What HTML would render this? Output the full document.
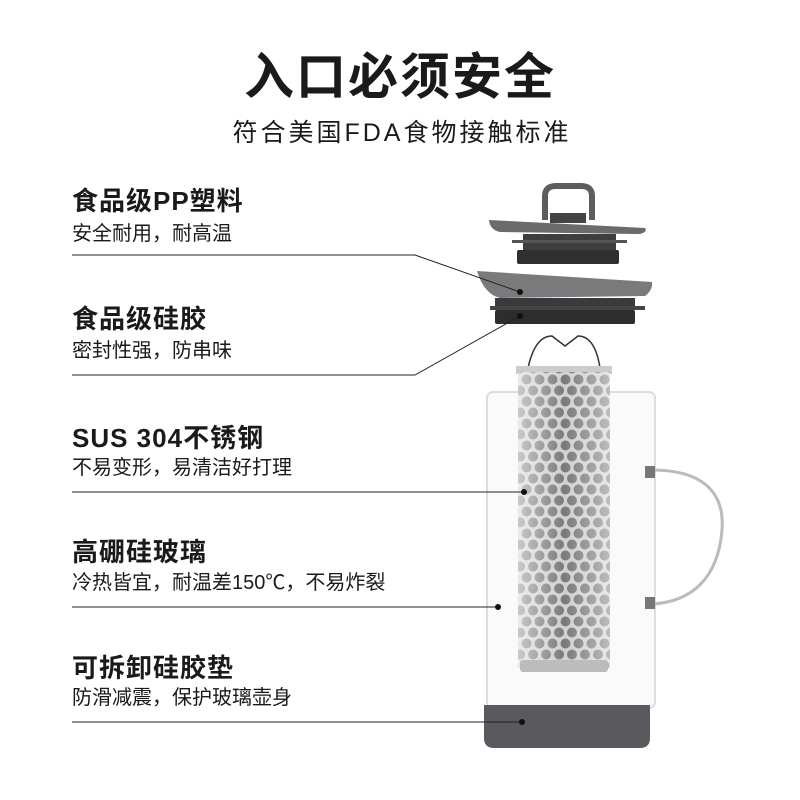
<!DOCTYPE html>
<html><head><meta charset="utf-8"><style>
body{margin:0;background:#fff}
svg{display:block}
text{font-family:"Liberation Sans","Noto Sans CJK SC",sans-serif;fill:#1a1a1a}
</style></head><body>
<svg width="800" height="800" viewBox="0 0 800 800" xmlns="http://www.w3.org/2000/svg">
<defs>
<pattern id="holes" x="0" y="0" width="13" height="22" patternUnits="userSpaceOnUse">
<rect width="13" height="22" fill="#d0d0d0"/>
<circle cx="6.5" cy="5.5" r="5" fill="#7a7a7a"/>
<circle cx="0" cy="16.5" r="5" fill="#7a7a7a"/>
<circle cx="13" cy="16.5" r="5" fill="#7a7a7a"/>
</pattern>
<linearGradient id="cyl" x1="0" x2="1">
<stop offset="0" stop-color="#fff" stop-opacity=".6"/><stop offset=".5" stop-color="#fff" stop-opacity="0"/><stop offset="1" stop-color="#fff" stop-opacity=".5"/>
</linearGradient>
</defs>
<text x="400" y="94" text-anchor="middle" font-size="50" font-weight="bold" letter-spacing="2">入口必须安全</text>
<text x="402" y="141" text-anchor="middle" font-size="25" letter-spacing="3">符合美国FDA食物接触标准</text>

<g font-size="26" font-weight="bold" letter-spacing="1">
<text x="72" y="210">食品级PP塑料</text>
<text x="72" y="328">食品级硅胶</text>
<text x="72" y="447">SUS 304不锈钢</text>
<text x="72" y="561">高硼硅玻璃</text>
<text x="72" y="677">可拆卸硅胶垫</text>
</g>
<g font-size="20">
<text x="72" y="240">安全耐用，耐高温</text>
<text x="72" y="357">密封性强，防串味</text>
<text x="72" y="474">不易变形，易清洁好打理</text>
<text x="72" y="589">冷热皆宜，耐温差150℃，不易炸裂</text>
<text x="72" y="704">防滑减震，保护玻璃壶身</text>
</g>

<rect x="487" y="392" width="168" height="316" rx="6" fill="#fafafa" stroke="#ddd" stroke-width="2"/>
<path d="M652 470 C700 470 725 490 722 530 C718 580 690 602 652 604" fill="none" stroke="#bbb" stroke-width="3"/>
<rect x="645" y="466" width="10" height="12" fill="#777"/>
<rect x="645" y="597" width="10" height="12" fill="#777"/>
<path d="M484 705 H650 V738 Q650 748 640 748 H494 Q484 748 484 738 Z" fill="#5a5a5e"/>
<path d="M528 368 Q535 336 552 336 L565 346 L578 336 Q595 336 600 368" fill="none" stroke="#333" stroke-width="1.5"/>
<rect x="516" y="366" width="96" height="8" fill="#ccc"/>
<rect x="518" y="372" width="92" height="296" fill="url(#holes)"/>
<rect x="518" y="372" width="92" height="296" fill="url(#cyl)"/>
<rect x="520" y="660" width="88" height="12" rx="3" fill="#bcbcbc"/>
<path d="M545 220 V196 Q545 186 556 186 H581 Q592 186 592 196 V220" fill="none" stroke="#5d5d5d" stroke-width="6"/>
<rect x="550" y="213" width="36" height="10" fill="#444"/>
<path d="M489 220 L645 228 Q648 232 640 234 L500 232 Q490 230 489 220 Z" fill="#6b6b6d"/>
<rect x="523" y="234" width="93" height="16" fill="#3e3e40"/>
<rect x="512" y="240" width="115" height="3" fill="#555"/>
<rect x="517" y="250" width="102" height="14" rx="2" fill="#2f2f31"/>
<path d="M477 271 L652 282 Q653 290 645 296 L500 298 Q484 294 477 271 Z" fill="#7a7a7c"/>
<rect x="495" y="298" width="140" height="8" fill="#3a3a3c"/>
<rect x="490" y="306" width="155" height="4" fill="#444"/>
<rect x="495" y="310" width="140" height="14" rx="2" fill="#2d2d2f"/>

<g stroke="#222" stroke-width="1" fill="none">
<polyline points="72,255 415,255 520,292"/>
<polyline points="72,375 415,375 520,316"/>
<line x1="72" y1="492" x2="524" y2="492"/>
<line x1="72" y1="607" x2="498" y2="607"/>
<line x1="72" y1="722" x2="522" y2="722"/>
</g>
<g fill="#111">
<circle cx="520" cy="292" r="3"/><circle cx="520" cy="316" r="3"/>
<circle cx="524" cy="492" r="3"/><circle cx="498" cy="607" r="3"/><circle cx="522" cy="722" r="3"/>
</g>
</svg>
</body></html>
